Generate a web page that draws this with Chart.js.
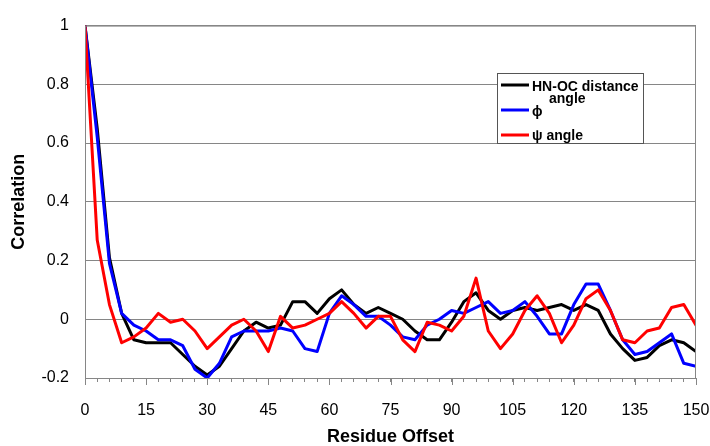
<!DOCTYPE html>
<html>
<head>
<meta charset="utf-8">
<script src="https://cdn.jsdelivr.net/npm/chart.js@4"></script>
<style>
  html, body { margin: 0; padding: 0; background: #fff; }
  #wrap { width: 710px; height: 446px; }
</style>
</head>
<body>
<div id="wrap"><canvas id="corrChart" width="710" height="446"></canvas></div>
<script>
// Residue offsets (x) and correlation values
const offsets = [0, 3, 6, 9, 12, 15, 18, 21, 24, 27, 30, 33, 36, 39, 42, 45, 48, 51, 54, 57,
    60, 63, 66, 69, 72, 75, 78, 81, 84, 87, 90, 93, 96, 99, 102, 105, 108, 111, 114, 117,
    120, 123, 126, 129, 132, 135, 138, 141, 144, 147, 150];

const hnocDistance = [1.0, 0.65, 0.21, 0.02, -0.07, -0.08, -0.08, -0.08, -0.12, -0.16,
    -0.19, -0.16, -0.10, -0.04, -0.01, -0.03, -0.02, 0.06, 0.06, 0.02,
    0.07, 0.10, 0.05, 0.02, 0.04, 0.02, 0.00, -0.04, -0.07, -0.07,
    -0.01, 0.06, 0.09, 0.03, 0.00, 0.03, 0.04, 0.03, 0.04, 0.05,
    0.03, 0.05, 0.03, -0.05, -0.10, -0.14, -0.13, -0.09, -0.07, -0.08, -0.11];

const phiAngle = [1.0, 0.62, 0.19, 0.02, -0.02, -0.04, -0.07, -0.07, -0.09, -0.17,
    -0.20, -0.15, -0.06, -0.04, -0.04, -0.04, -0.03, -0.04, -0.10, -0.11,
    0.02, 0.08, 0.05, 0.01, 0.01, -0.02, -0.06, -0.07, -0.02, 0.00,
    0.03, 0.02, 0.04, 0.06, 0.02, 0.03, 0.06, 0.01, -0.05, -0.05,
    0.05, 0.12, 0.12, 0.03, -0.07, -0.12, -0.11, -0.08, -0.05, -0.15, -0.16];

const psiAngle = [1.0, 0.27, 0.05, -0.08, -0.06, -0.03, 0.02, -0.01, 0.00, -0.04,
    -0.10, -0.06, -0.02, 0.00, -0.04, -0.11, 0.01, -0.03, -0.02, 0.00,
    0.02, 0.06, 0.02, -0.03, 0.01, 0.01, -0.07, -0.11, -0.01, -0.02,
    -0.04, 0.01, 0.14, -0.04, -0.10, -0.05, 0.03, 0.08, 0.02, -0.08,
    -0.02, 0.07, 0.10, 0.03, -0.07, -0.08, -0.04, -0.03, 0.04, 0.05, -0.02];

const seriesNames = ['HN-OC distance', '\u03D5 angle', '\u03C8 angle'];
const seriesColors = ['#000000', '#0000ff', '#ff0000'];
const xMajorTicks = [0, 15, 30, 45, 60, 75, 90, 105, 120, 135, 150];

const FONT = '"Liberation Sans", Arial, sans-serif';
const AXIS_GRAY = '#868686';

function toPoints(values) {
    return offsets.map((x, i) => ({ x: x, y: values[i] }));
}

// Box around the plot area, longer major ticks, and the Excel-style legend
const framePlugin = {
    id: 'frame',
    afterDraw(chart) {
        const { ctx, chartArea } = chart;
        const xScale = chart.scales.x;
        ctx.save();
        ctx.strokeStyle = AXIS_GRAY;
        ctx.lineWidth = 1;
        ctx.strokeRect(chartArea.left + 0.5, chartArea.top + 0.5,
            chartArea.right - chartArea.left - 1, chartArea.bottom - chartArea.top);

        // major tick marks on the x axis
        ctx.beginPath();
        xMajorTicks.forEach(v => {
            const px = Math.round(xScale.getPixelForValue(v)) + 0.5;
            ctx.moveTo(px, chartArea.bottom);
            ctx.lineTo(px, chartArea.bottom + 7);
        });
        ctx.stroke();

        // legend box
        const lx = 497, ly = 73, lw = 146, lh = 70;
        ctx.fillStyle = '#ffffff';
        ctx.fillRect(lx, ly, lw, lh);
        ctx.strokeStyle = '#555555';
        ctx.strokeRect(lx + 0.5, ly + 0.5, lw, lh);

        const rows = [85, 110, 135];
        ctx.lineWidth = 3;
        ctx.font = 'bold 14px ' + FONT;
        ctx.textBaseline = 'middle';
        ctx.fillStyle = '#000000';
        rows.forEach((ry, i) => {
            ctx.strokeStyle = seriesColors[i];
            ctx.beginPath();
            ctx.moveTo(lx + 4, ry);
            ctx.lineTo(lx + 32, ry);
            ctx.stroke();
        });
        // labels as they appear in the original (phi label wrapped oddly)
        ctx.fillText(seriesNames[0], lx + 35, 87);
        ctx.fillText('angle', lx + 52, 99);
        ctx.fillText(seriesNames[1].split(' ')[0], lx + 35, 112);
        ctx.fillText(seriesNames[2], lx + 35, 136);
        ctx.restore();
    }
};

const lineStyle = {
    borderWidth: 3,
    pointRadius: 0,
    tension: 0,
    borderJoinStyle: 'round',
    borderCapStyle: 'round'
};

const ctx = document.getElementById('corrChart').getContext('2d');
const corrChart = new Chart(ctx, {
    type: 'line',
    data: {
        datasets: [
            { ...lineStyle, label: seriesNames[0], data: toPoints(hnocDistance), borderColor: seriesColors[0], order: 3 },
            { ...lineStyle, label: seriesNames[1], data: toPoints(phiAngle), borderColor: seriesColors[1], order: 2 },
            { ...lineStyle, label: seriesNames[2], data: toPoints(psiAngle), borderColor: seriesColors[2], order: 1 }
        ]
    },
    options: {
        responsive: false,
        animation: false,
        layout: {
            padding: { top: 20, right: 0, left: 0, bottom: 0 }
        },
        plugins: {
            legend: { display: false },
            tooltip: { enabled: false }
        },
        scales: {
            x: {
                type: 'linear',
                min: 0,
                max: 150,
                afterFit(scale) {
                    scale.height = 68;
                    scale.paddingLeft = 0;
                    scale.paddingRight = 14;
                },
                border: { color: AXIS_GRAY, width: 1 },
                grid: {
                    drawOnChartArea: false,
                    drawTicks: true,
                    tickLength: 4,
                    color: AXIS_GRAY
                },
                ticks: {
                    stepSize: 3,
                    autoSkip: false,
                    maxRotation: 0,
                    padding: 19,
                    color: '#000000',
                    font: { family: FONT, size: 16 },
                    callback: v => (v % 15 === 0 ? String(v) : '')
                },
                title: {
                    display: true,
                    text: 'Residue Offset',
                    color: '#000000',
                    font: { family: FONT, size: 18, weight: 'bold' },
                    padding: { top: 0, bottom: -2 }
                }
            },
            y: {
                min: -0.2,
                max: 1,
                afterFit(scale) { scale.width = 85; },
                border: { color: AXIS_GRAY, width: 1 },
                grid: {
                    color: AXIS_GRAY,
                    drawTicks: false
                },
                ticks: {
                    stepSize: 0.2,
                    padding: 16,
                    color: '#000000',
                    font: { family: FONT, size: 16 },
                    callback: v => String(+v.toFixed(1))
                },
                title: {
                    display: true,
                    text: 'Correlation',
                    color: '#000000',
                    font: { family: FONT, size: 18, weight: 'bold' },
                    padding: { top: 8, bottom: 0 }
                }
            }
        }
    },
    plugins: [framePlugin]
});
</script>
</body>
</html>
